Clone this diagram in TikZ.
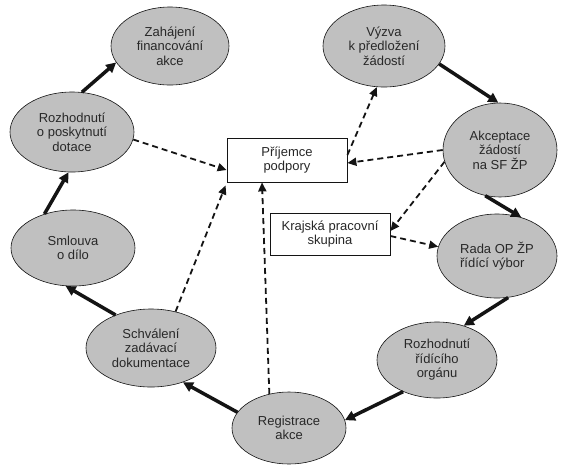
\documentclass[tikz,border=0pt]{standalone}
\usepackage{fontspec}
\setmainfont{Liberation Sans}
\usetikzlibrary{shapes.geometric,arrows.meta}
\definecolor{elfill}{RGB}{192,192,192}
\definecolor{ink}{RGB}{20,20,20}
\definecolor{txt}{RGB}{40,40,40}
\tikzset{
  el/.style={ellipse,draw=ink,line width=0.6pt,fill=elfill,inner sep=0pt,align=center,
    text=txt,font=\fontsize{13}{14.5}\selectfont},
  bx/.style={rectangle,draw=ink,line width=0.8pt,fill=white,inner sep=0pt,align=center,
    text=txt,minimum width=120pt,font=\fontsize{13}{14.5}\selectfont},
  thickarr/.style={draw=ink,line width=3.5pt,-{Triangle[length=10pt,width=10pt]}},
  dasharr/.style={draw=ink,line width=1.8pt,dash pattern=on 6pt off 4pt,
    -{Triangle[length=9pt,width=8pt]}},
}
\begin{document}
\begin{tikzpicture}[x=1pt,y=-1pt]
\useasboundingbox[fill=white] (0,0) rectangle (565,467);
% ellipses
\node[el,minimum width=118pt,minimum height=78pt] (Z) at (170,46) {Zahájení\\financování\\akce};
\node[el,minimum width=124pt,minimum height=80pt] (R1) at (72,132) {Rozhodnutí\\o poskytnutí\\dotace};
\node[el,minimum width=124pt,minimum height=76pt] (S) at (73,248) {Smlouva\\o dílo};
\node[el,minimum width=130pt,minimum height=78pt] (Sch) at (151,348) {Schválení\\zadávací\\dokumentace};
\node[el,minimum width=114pt,minimum height=72pt] (Reg) at (289,428) {Registrace\\akce};
\node[el,minimum width=120pt,minimum height=76pt] (Rio) at (437,360) {Rozhodnutí\\řídícího\\orgánu};
\node[el,minimum width=120pt,minimum height=84pt,align=left] (Rada) at (497,256) {Rada OP ŽP\\řídící výbor};
\node[el,minimum width=114pt,minimum height=94pt] (Ak) at (500,150) {Akceptace\\žádostí\\na SF ŽP};
\node[el,minimum width=122pt,minimum height=82pt] (V) at (384,46) {Výzva\\k předložení\\žádostí};
% boxes
\node[bx,minimum height=44pt] (P) at (287,160) {Příjemce\\podpory};
\node[bx,minimum height=42pt] (K) at (330,234) {Krajská pracovní\\skupina};
% thick flow arrows
\draw[thickarr] (R1.76) -- (Z.197);
\draw[thickarr] (S.130) -- (R1.265);
\draw[thickarr] (Sch.137) -- (S.259);
\draw[thickarr] (Reg.163) -- (Sch.313);
\draw[thickarr] (Rio.223) -- (Reg.8);
\draw[thickarr] (Rada.285) -- (Rio.52);
\draw[thickarr] (Ak.252) -- (Rada.58);
\draw[thickarr] (V.342) -- (Ak.92);
% dashed arrows
\draw[dasharr] (R1.353) -- ([yshift=-10pt]P.west);
\draw[dasharr] (Sch.56) -- ([xshift=-1pt,yshift=-3pt]P.south west);
\draw[dasharr] (Reg.120) -- ([xshift=-25pt]P.south);
\draw[dasharr] ([yshift=5pt]P.east) -- (V.260);
\draw[dasharr] (Ak.180) -- ([yshift=-3pt]P.east);
\draw[dasharr] (Ak.192) -- ([yshift=3pt]K.east);
\draw[dasharr] ([yshift=-2pt]K.east) -- (Rada.171);
\end{tikzpicture}
\end{document}
